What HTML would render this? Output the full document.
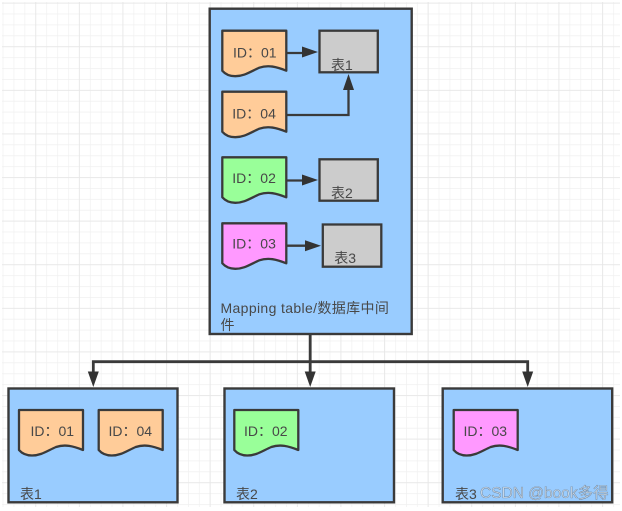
<!DOCTYPE html>
<html><head><meta charset="utf-8">
<style>
html,body{margin:0;padding:0;background:#fff;width:622px;height:511px;overflow:hidden}
svg{display:block}
text{font-family:"Liberation Sans","Noto Sans CJK SC",sans-serif;font-size:14px;fill:#484848}
.all{filter:blur(.35px)}
</style></head>
<body>
<svg width="622" height="511" viewBox="0 0 622 511" xmlns="http://www.w3.org/2000/svg">
<defs>
<pattern id="minor" x="2.7" y="2.7" width="10.9" height="10.9" patternUnits="userSpaceOnUse">
<path d="M0 0H10.9M0 0V10.9" stroke="#f0f0f0" stroke-width="1.4" fill="none"/>
</pattern>
<pattern id="major" x="-8.3" y="2.7" width="43.6" height="43.6" patternUnits="userSpaceOnUse">
<path d="M0 0H43.6M0 0V43.6" stroke="#e6e6e6" stroke-width="1.6" fill="none"/>
</pattern>
<path id="d" d="M0 0H64V40C54 36 46 34 37 37C28 41 22 45.500 13 45.500C8 45.500 3 43.500 0 40Z" stroke="#3a3a3a" stroke-width="2.300" stroke-linejoin="round"/>
</defs>
<g class="all">
<rect x="2" y="2" width="618" height="505" fill="url(#minor)"/>
<rect x="2" y="2" width="618" height="505" fill="url(#major)"/>

<g stroke="#3a3a3a" stroke-width="2.400" fill="#99ccff">
<rect x="209.700" y="8.700" width="202" height="325.300"/>
<rect x="8.500" y="388.500" width="169" height="113.800"/>
<rect x="224.500" y="388.500" width="169.500" height="113.800"/>
<rect x="442.700" y="388.500" width="169.500" height="113.800"/>
</g>

<use href="#d" x="222.300" y="30.700" fill="#ffcc99"/>
<use href="#d" x="222.300" y="91.700" fill="#ffcc99"/>
<use href="#d" x="222.300" y="157.300" fill="#99ff99"/>
<use href="#d" x="222.300" y="223.300" fill="#ff99ff"/>
<use href="#d" x="19" y="410" fill="#ffcc99"/>
<use href="#d" x="98.700" y="410" fill="#ffcc99"/>
<use href="#d" x="234.300" y="410" fill="#99ff99"/>
<use href="#d" x="453.700" y="410" fill="#ff99ff"/>

<g stroke="#3a3a3a" stroke-width="2.300" fill="#cccccc">
<rect x="319.500" y="30.700" width="58.300" height="41.600"/>
<rect x="319.500" y="159.300" width="58.300" height="41.400"/>
<rect x="322.800" y="224.500" width="58.500" height="42.200"/>
</g>

<g stroke="#3a3a3a" stroke-width="2.300" fill="none">
<path d="M286.500 53H305"/>
<path d="M286.500 115H348.500V88"/>
<path d="M286.500 180.500H305"/>
<path d="M286.500 245.700H308"/>
</g>
<g stroke="#3a3a3a" stroke-width="2.800" fill="none">
<path d="M310.200 334V374"/>
<path d="M93.300 374V361.700H527.700V374"/>
</g>
<g fill="#333">
<path d="M318 52L302 46.500V57.500Z"/>
<path d="M348.500 74L343 90H354Z"/>
<path d="M318 180L302 174.500V185.500Z"/>
<path d="M321 245.700L305 240.200V251.200Z"/>
<path d="M93.300 387L87.800 371.500H98.800Z"/>
<path d="M310.200 387L304.700 371.500H315.700Z"/>
<path d="M527.700 387L522.200 371.500H533.200Z"/>
</g>

<text x="233" y="57.500">ID：01</text>
<text x="232.300" y="118.500">ID：04</text>
<text x="232.300" y="183">ID：02</text>
<text x="232.300" y="248.500">ID：03</text>
<text x="331" y="70">表1</text>
<text x="331" y="198">表2</text>
<text x="334.300" y="263">表3</text>
<text x="220.500" y="313" style="letter-spacing:.36px">Mapping table/数据库中间</text>
<text x="220.500" y="330">件</text>
<text x="30.500" y="436">ID：01</text>
<text x="108.500" y="436">ID：04</text>
<text x="244" y="436">ID：02</text>
<text x="463.500" y="436">ID：03</text>
<text x="20" y="499">表1</text>
<text x="236" y="499">表2</text>
<text x="455" y="499">表3</text>
<text x="480" y="498" style="font-size:15.500px;fill:#c6d6e6;stroke:#64778c;stroke-width:.35px">CSDN @book多得</text>
</g>
</svg>
</body></html>
